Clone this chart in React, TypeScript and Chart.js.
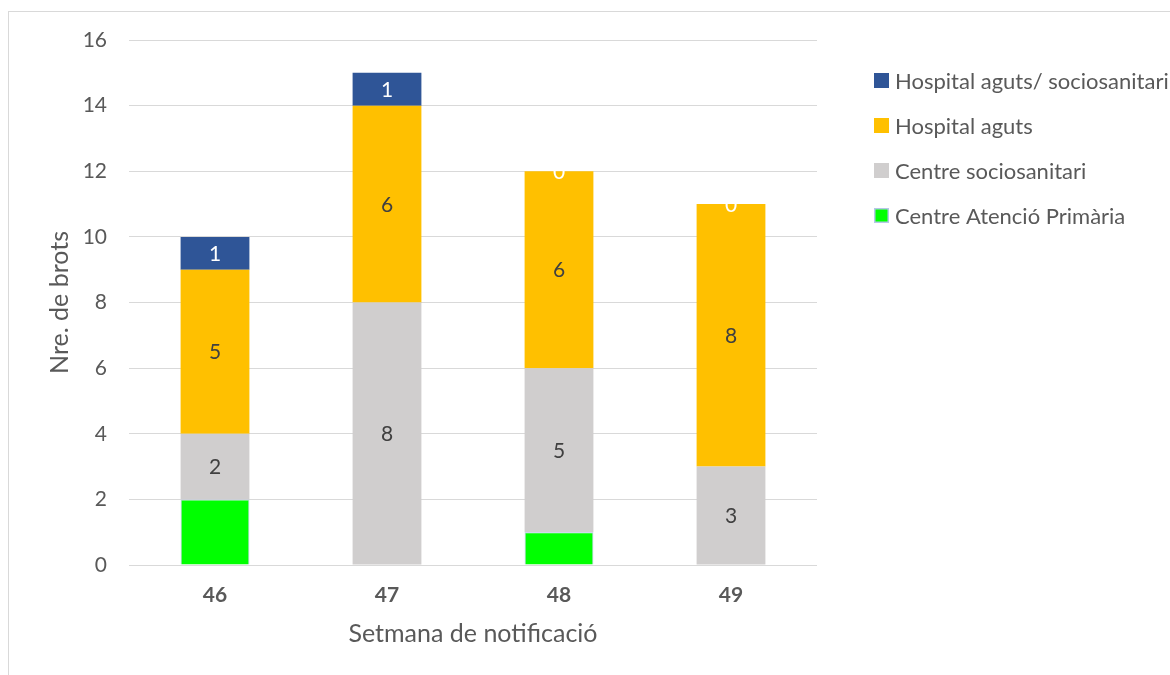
import React, { useEffect, useRef } from "react";
import { Chart, registerables } from "chart.js";

Chart.register(...registerables);

const weeks = ["46", "47", "48", "49"];
const capValues = [2, 0, 1, 0];
const sociosanitariValues = [2, 8, 5, 3];
const aguts = [5, 6, 6, 8];
const agutsSocio = [1, 1, 0, 0];
const yTicks = [0, 2, 4, 6, 8, 10, 12, 14, 16];

const FONT = "Lato, 'Noto Sans', sans-serif";
const TEXT = "#595959";

const labelPlugin = {
  id: "segLabels",
  afterDatasetsDraw(chart: any) {
    const ctx = chart.ctx;
    ctx.save();
    ctx.font = `21px ${FONT}`;
    ctx.textAlign = "center";
    ctx.textBaseline = "middle";
    chart.data.datasets.forEach((ds: any, di: number) => {
      if (!ds.labelColor) return;
      const meta = chart.getDatasetMeta(di);
      meta.data.forEach((bar: any, i: number) => {
        const v = ds.data[i];
        ctx.fillStyle = ds.labelColor;
        ctx.fillText(String(v), bar.x, (bar.y + bar.base) / 2 + 1);
      });
    });
    ctx.restore();
  },
};

const legendPlugin = {
  id: "sideLegend",
  afterDraw(chart: any) {
    const ctx = chart.ctx;
    ctx.save();
    ctx.font = `22px ${FONT}`;
    ctx.textBaseline = "middle";
    ctx.textAlign = "left";
    const items = [...chart.data.datasets].reverse();
    items.forEach((ds: any, k: number) => {
      const y = 81 + k * 45;
      if (ds.borderColor && ds.borderWidth) {
        ctx.fillStyle = ds.borderColor;
        ctx.fillRect(874, y - 8, 15, 15);
        ctx.fillStyle = ds.backgroundColor;
        ctx.fillRect(875.5, y - 6.5, 12, 12);
      } else {
        ctx.fillStyle = ds.backgroundColor;
        ctx.fillRect(874, y - 8, 15, 15);
      }
      ctx.fillStyle = TEXT;
      ctx.fillText(ds.label, 895, y + 1);
    });
    ctx.restore();
  },
};

export default function App() {
  const ref = useRef<HTMLCanvasElement>(null);
  useEffect(() => {
    document.body.style.overflow = "hidden";
    const chart = new Chart(ref.current!, {
      type: "bar",
      data: {
        labels: weeks,
        datasets: [
          {
            label: "Centre Atenció Primària",
            data: capValues,
            backgroundColor: "#00FF00",
            borderColor: "#B4C7E7",
            borderWidth: 1,
          } as any,
          {
            label: "Centre sociosanitari",
            data: sociosanitariValues,
            backgroundColor: "#D0CECE",
            labelColor: "#404040",
          },
          {
            label: "Hospital aguts",
            data: aguts,
            backgroundColor: "#FFC000",
            labelColor: "#404040",
          },
          {
            label: "Hospital aguts/ sociosanitari",
            data: agutsSocio,
            backgroundColor: "#2F5597",
            labelColor: "#FFFFFF",
          },
        ],
      },
      options: {
        animation: false,
        responsive: false,
        devicePixelRatio: 1,
        layout: { padding: { left: 41, top: 40, right: 353, bottom: 22 } },
        datasets: { bar: { categoryPercentage: 1, barPercentage: 0.4 } },
        plugins: { legend: { display: false }, tooltip: { enabled: false } },
        scales: {
          x: {
            stacked: true,
            grid: { display: false, drawTicks: false },
            border: { display: false },
            ticks: {
              color: TEXT,
              font: { family: FONT, size: 21, weight: "bold" },
              padding: 18,
            },
            title: {
              display: true,
              text: "Setmana de notificació",
              color: TEXT,
              font: { family: FONT, size: 25 },
            },
            afterFit(s: any) {
              s.height = 88;
            },
          },
          y: {
            stacked: true,
            min: 0,
            max: 16,
            afterBuildTicks(s: any) {
              s.ticks = yTicks.map((v) => ({ value: v }));
            },
            grid: { color: "#D9D9D9", drawTicks: false, lineWidth: 1 },
            border: { display: false },
            ticks: {
              color: TEXT,
              font: { family: FONT, size: 21 },
              padding: 22,
            },
            title: {
              display: true,
              text: "Nre. de brots",
              color: TEXT,
              font: { family: FONT, size: 25 },
            },
            afterFit(s: any) {
              s.width = 88;
            },
          },
        },
      },
      plugins: [labelPlugin, legendPlugin],
    });
    return () => chart.destroy();
  }, []);
  return (
    <div
      style={{
        position: "fixed",
        left: 0,
        top: 0,
        width: 1170,
        height: 675,
        overflow: "hidden",
        background: "#fff",
      }}
    >
      <div
        style={{
          position: "absolute",
          left: 8,
          top: 11,
          width: 1200,
          height: 700,
          border: "1px solid #D9D9D9",
        }}
      />
      <canvas
        ref={ref}
        width={1170}
        height={675}
        style={{ position: "absolute", left: 0, top: 0, width: 1170, height: 675 }}
      />
    </div>
  );
}
